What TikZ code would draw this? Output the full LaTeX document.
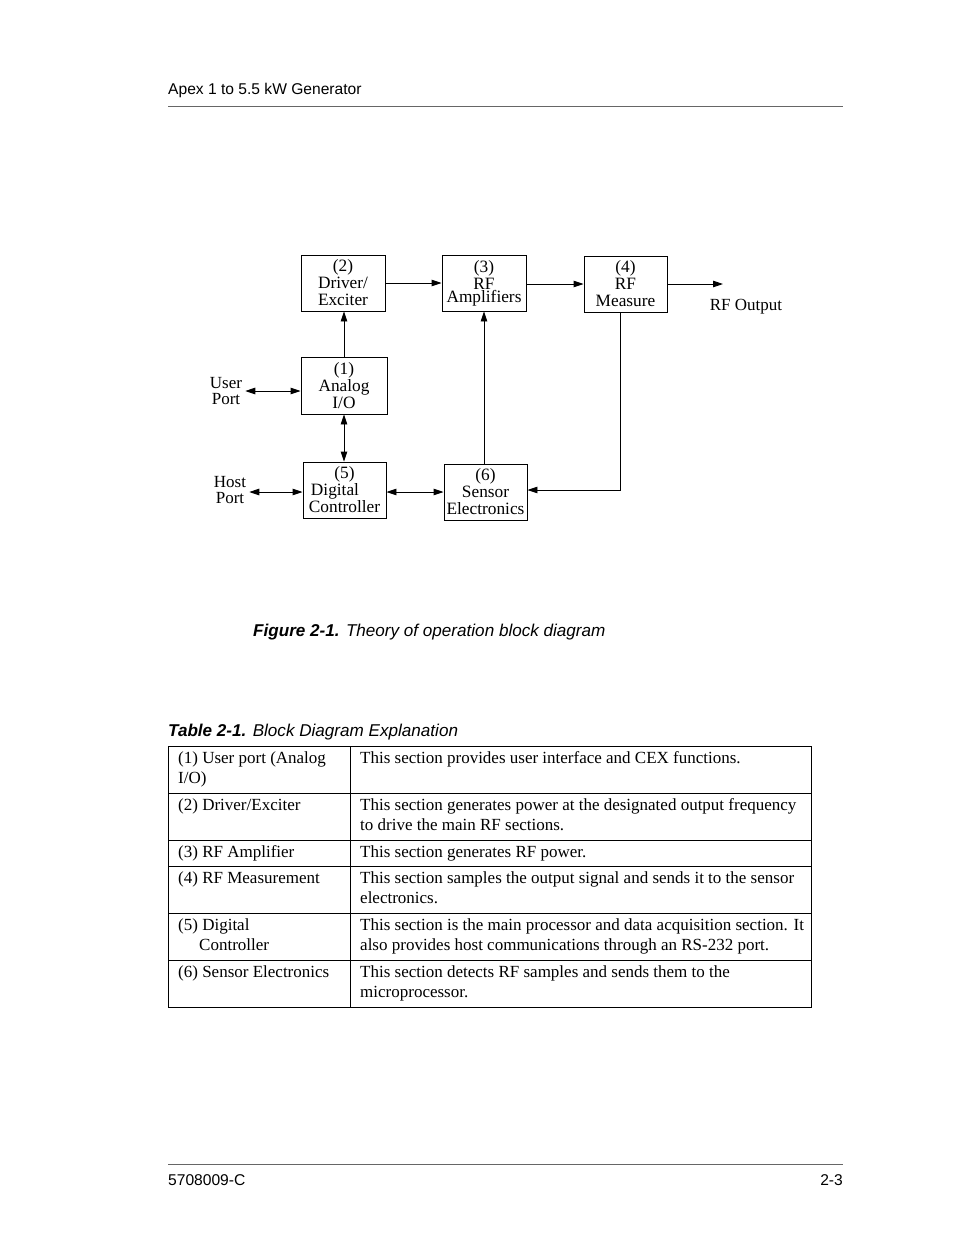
\documentclass[tikz,border=0pt]{standalone}
\usepackage{fontspec}
\setmainfont{Liberation Serif}
\setsansfont{Liberation Sans}
\usetikzlibrary{arrows.meta}
\begin{document}
\begin{tikzpicture}[x=1pt,y=-1pt,
  blk/.style={draw, line width=0.9pt, inner sep=0pt, align=center, font=\fontsize{17.3}{17}\selectfont},
  arr/.style={line width=0.9pt, -{Triangle[length=10pt,width=6.5pt]}},
  darr/.style={line width=0.9pt, {Triangle[length=10pt,width=6.5pt]}-{Triangle[length=10pt,width=6.5pt]}},
  lbl/.style={inner sep=3pt, align=center, font=\fontsize{17}{16}\selectfont},
  cell/.style={anchor=north west, inner sep=0pt, align=left, font=\fontsize{17}{20}\selectfont},
  tline/.style={line width=0.8pt},
  rule/.style={line width=0.8pt, draw=black!60},
  sans/.style={inner sep=0pt, font=\fontsize{15.6}{18}\selectfont\sffamily}]
\useasboundingbox[fill=white] (0,0) rectangle (954,1235);

% header / footer
\node[sans, anchor=base west] (hdr) at (168,94) {Apex 1 to 5.5 kW Generator};
\draw[rule] (168,106) -- (843,106);
\draw[rule] (168,1164) -- (843,1164);
\node[sans, anchor=base west] (ftl) at (168,1185) {5708009-C};
\node[sans, anchor=base east] (ftr) at (843,1185) {2-3};

% blocks
\node[blk, minimum width=84pt, minimum height=56pt] (b2) at (343,283) {(2)\\Driver/\\Exciter};
\node[blk, minimum width=84pt, minimum height=56pt] (b3) at (484,283) {(3)\\RF\\[-4pt]Amplifiers};
\node[blk, minimum width=83pt, minimum height=56pt] (b4) at (625.5,284) {(4)\\RF\\Measure};
\node[blk, minimum width=86pt, minimum height=57pt] (b1) at (344,385.5) {(1)\\Analog\\I/O};
\node[blk, minimum width=83pt, minimum height=56pt] (b5) at (344.5,490) {(5)\\Digital\rule{19pt}{0pt}\\Controller};
\node[blk, minimum width=83pt, minimum height=56pt] (b6) at (485.5,492) {(6)\\Sensor\\Electronics};

\node[lbl] (up) at (226,391) {User\\Port};
\node[lbl] (hp) at (230,490.5) {Host\\Port};
\node[lbl] (ro) at (746,307) {RF Output};
\coordinate (rfo) at (723,284);
\coordinate (corner) at (620,490);

% connectors
\draw[arr] (b2) -- (b3);
\draw[arr] (b3.east |- b4) -- (b4.west);
\draw[arr] (b4.east) -- (rfo);
\draw[arr] (b1.north) -- (b1.north |- b2.south);
\draw[arr] (b3.south |- b6.north) -- (b3.south);
\draw[arr] (b4.south -| corner) -- (corner) -- (b6.east |- corner);
\draw[darr] (up.east) -- (up.east -| b1.west);
\draw[darr] (hp.east |- 0,492) -- (b5.west |- 0,492);
\draw[darr] (b1.south) -- (b1.south |- b5.north);
\draw[darr] (b5.east |- b6.west) -- (b6.west);

% captions
\node[anchor=base west, inner sep=0pt, font=\fontsize{17.1}{19}\selectfont\sffamily\itshape] (figcap) at (253,636) {\bfseries Figure 2-1.\mdseries{} Theory of operation block diagram};
\node[anchor=base west, inner sep=0pt, font=\fontsize{17.1}{19}\selectfont\sffamily\itshape] (tabcap) at (168,736) {\bfseries Table 2-1.\mdseries{} Block Diagram Explanation};

% table
\draw[tline] (168,746) rectangle (811,1007);
\draw[tline] (350,746) -- (350,1007);
\foreach \y in {793,840,866,913,960} \draw[tline] (168,\y) -- (811,\y);

\node[cell] (l1) at (178,749) {\rule{0pt}{14pt}(1) User port (Analog\\I/O)};
\node[cell] (r1) at (360,749) {\rule{0pt}{14pt}This section provides user interface and CEX functions.};
\node[cell] (l2) at (178,796) {\rule{0pt}{14pt}(2) Driver/Exciter};
\node[cell] (r2) at (360,796) {\rule{0pt}{14pt}This section generates power at the designated output frequency\\to drive the main RF sections.};
\node[cell] (l3) at (178,843) {\rule{0pt}{14pt}(3) RF Amplifier};
\node[cell] (r3) at (360,843) {\rule{0pt}{14pt}This section generates RF power.};
\node[cell] (l4) at (178,869) {\rule{0pt}{14pt}(4) RF Measurement};
\node[cell] (r4) at (360,869) {\rule{0pt}{14pt}This section samples the output signal and sends it to the sensor\\electronics.};
\node[cell] (l5) at (178,916) {\rule{0pt}{14pt}(5) Digital\\\hspace*{21pt}Controller};
\node[cell] (r5) at (360,916) {\rule{0pt}{14pt}This section is the main processor and data acquisition section. It\\also provides host communications through an RS-232 port.};
\node[cell] (l6) at (178,963) {\rule{0pt}{14pt}(6) Sensor Electronics};
\node[cell] (r6) at (360,963) {\rule{0pt}{14pt}This section detects RF samples and sends them to the\\microprocessor.};
\end{tikzpicture}
\end{document}
